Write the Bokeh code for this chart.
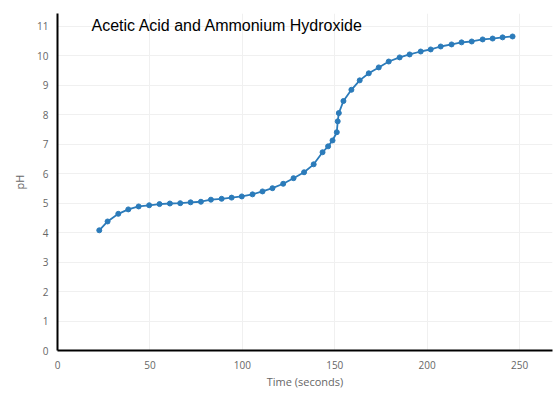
from bokeh.plotting import figure
from bokeh.models import Range1d, FixedTicker, Label
from bokeh.embed import file_html
from bokeh.resources import INLINE

# Data
time_s = [22.6, 27.1, 32.9, 38.3, 43.9, 49.6, 55.2, 60.8, 66.4, 72.0, 77.6,
          83.0, 88.8, 94.2, 99.7, 105.5, 110.9, 116.3, 122.1, 127.7, 133.4,
          138.6, 143.4, 146.4, 148.8, 151.1, 151.6, 152.2, 154.7, 159.0, 163.5,
          168.4, 173.8, 179.2, 185.1, 190.5, 196.5, 201.9, 207.3, 213.2, 218.6,
          224.1, 230.0, 235.4, 240.8, 246.2]
ph = [4.08, 4.38, 4.64, 4.79, 4.89, 4.93, 4.97, 4.99, 5.00, 5.03, 5.05,
      5.12, 5.15, 5.19, 5.23, 5.30, 5.40, 5.51, 5.66, 5.85, 6.05,
      6.32, 6.73, 6.93, 7.13, 7.41, 7.78, 8.06, 8.47, 8.85, 9.17,
      9.41, 9.61, 9.81, 9.95, 10.05, 10.15, 10.22, 10.32, 10.39, 10.46,
      10.49, 10.56, 10.59, 10.63, 10.66]
x_ticks = [0, 50, 100, 150, 200, 250]
y_ticks = [0, 1, 2, 3, 4, 5, 6, 7, 8, 9, 10, 11]
title_text = "Acetic Acid and Ammonium Hydroxide"

p = figure(width=560, height=394, output_backend="svg", toolbar_location=None,
           x_range=Range1d(0, 267.8), y_range=Range1d(0, 11.44),
           min_border_left=57, min_border_right=8, min_border_top=13,
           min_border_bottom=44)
p.outline_line_color = None
p.background_fill_color = "white"
p.border_fill_color = "white"

BLUE = "#2b7bba"
p.line(time_s, ph, line_color=BLUE, line_width=1.8)
p.scatter(time_s, ph, size=5, fill_color=BLUE, line_color=BLUE)

for ax in (p.xaxis[0], p.yaxis[0]):
    ax.axis_line_color = "black"
    ax.axis_line_width = 2
    ax.major_tick_line_color = None
    ax.minor_tick_line_color = None
    ax.major_label_text_font = "Open Sans"
    ax.major_label_text_font_size = "10px"
    ax.major_label_text_color = "#666666"
    ax.axis_label_text_font = "Open Sans"
    ax.axis_label_text_font_size = "11px"
    ax.axis_label_text_font_style = "normal"
    ax.axis_label_text_color = "#666666"

p.xaxis.ticker = FixedTicker(ticks=x_ticks)
p.yaxis.ticker = FixedTicker(ticks=y_ticks)
p.xaxis.axis_label = "Time (seconds)"
p.yaxis.axis_label = "pH"
p.xaxis.major_label_standoff = 4
p.yaxis.major_label_standoff = 3
p.xaxis.axis_label_standoff = 2
p.yaxis.axis_label_standoff = 7

p.xgrid.ticker = FixedTicker(ticks=x_ticks)
p.ygrid.ticker = FixedTicker(ticks=y_ticks)
p.xgrid.grid_line_color = "#f0f0f0"
p.ygrid.grid_line_color = "#f0f0f0"

p.add_layout(Label(x=34, y=325, x_units="screen", y_units="screen",
                   text=title_text, text_font="Liberation Sans",
                   text_font_size="16px", text_color="black",
                   text_baseline="middle"))

open("out.html", "w").write(file_html(p, INLINE))
